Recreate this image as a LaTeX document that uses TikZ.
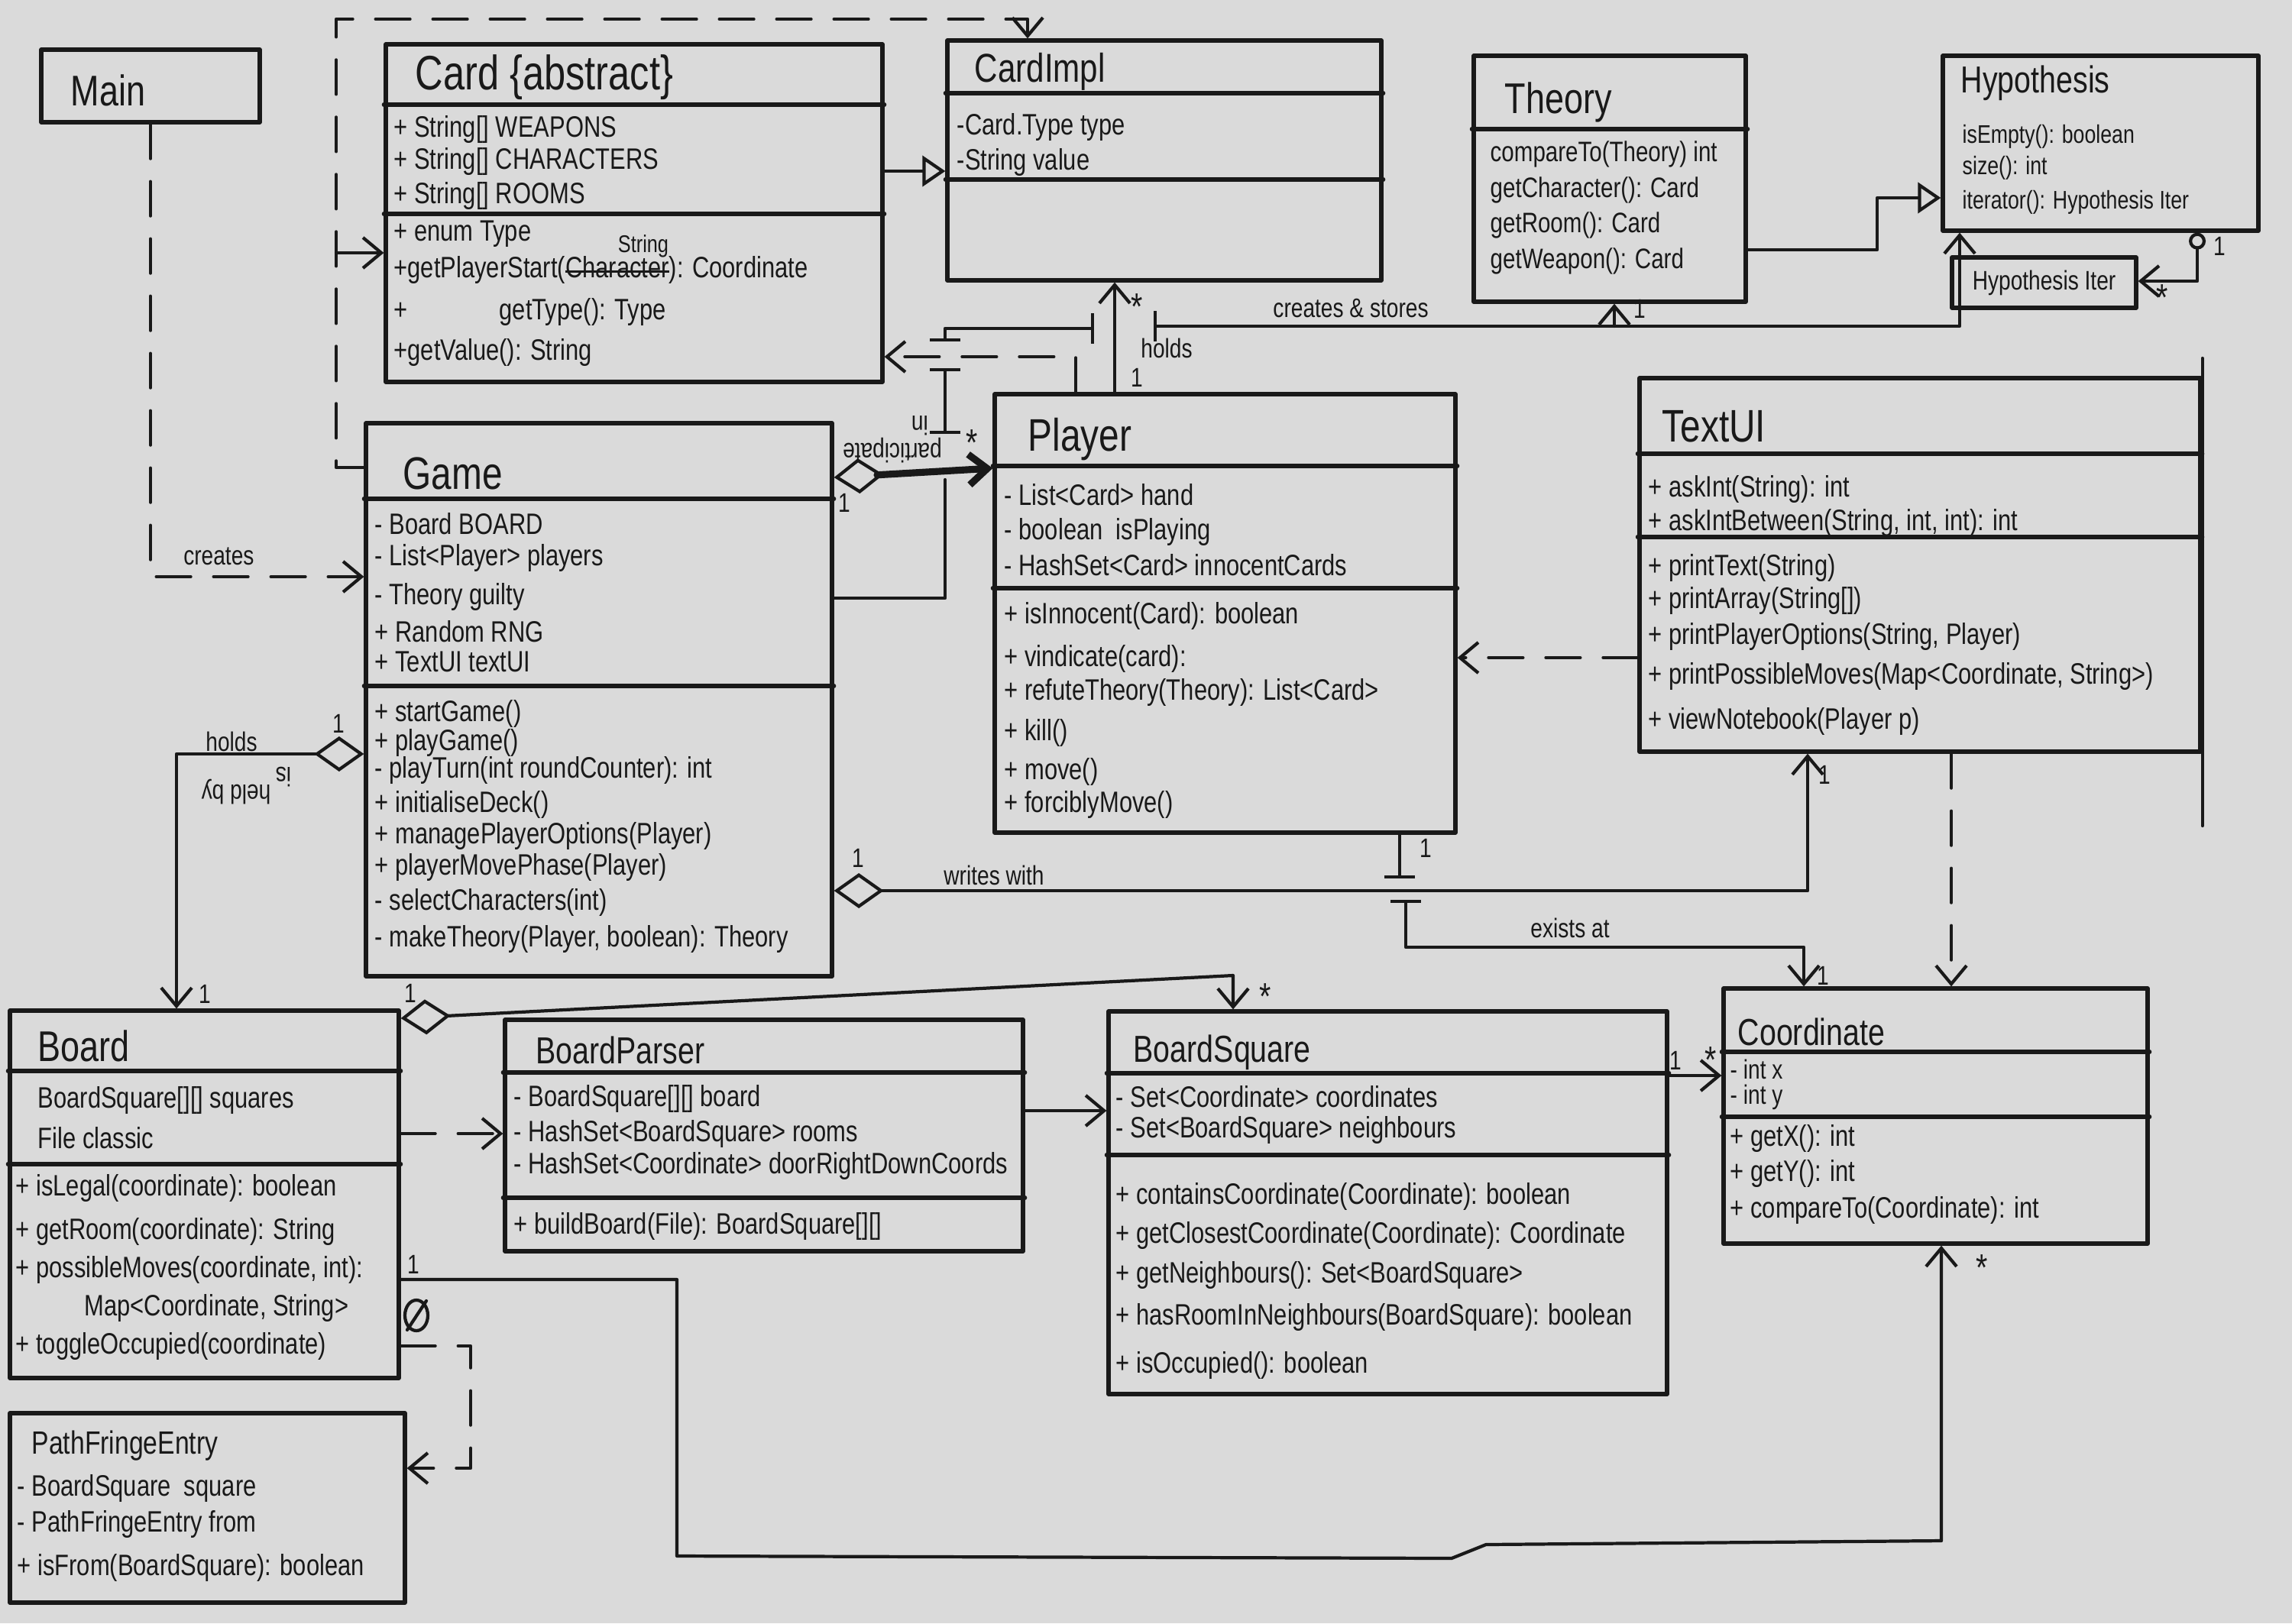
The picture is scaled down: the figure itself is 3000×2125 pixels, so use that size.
\documentclass[tikz,border=0pt]{standalone}
\usepackage{fontspec}
\setmainfont{Liberation Sans}[FakeStretch=0.8]
\usetikzlibrary{arrows.meta,fit}
\definecolor{paper}{RGB}{218,218,218}
\definecolor{ink}{RGB}{25,25,25}
\newcommand\memberlist[4][]{\foreach \yy/\mt [count=\i] in {#4} {\node[member,#1] (#2\i) at (#3,\yy) {\mt};}}
\newcommand\strk[1]{\setbox0\hbox{#1}\rlap{\raisebox{0.3ex}{\rule{\wd0}{0.7pt}}}\box0}
\begin{document}
\begin{tikzpicture}[x=0.1mm,y=-0.1mm,line cap=round,line join=round,
  >={Straight Barb[length=2.4mm,width=4mm]},
  box/.style={draw=ink,line width=1.5pt,inner sep=0pt},
  div/.style={draw=ink,line width=1.5pt},
  conn/.style={draw=ink,line width=1.2pt},
  dep/.style={conn,dash pattern=on 4.5mm off 3mm},
  comp/.style={draw=ink,line width=2.6pt},
  lbl/.style={font=\fontsize{10}{12}\selectfont,text=ink,inner sep=1pt},
  star/.style={font=\fontsize{14}{14}\selectfont,text=ink,inner sep=0pt},
  member/.style={anchor=west,inner sep=0pt,text=ink,font=\fontsize{11}{13}\selectfont},
  cname/.style={anchor=west,inner sep=0pt,text=ink},
  dia/.tip={Diamond[open,length=6.5mm,width=4.6mm,line width=1.2pt]},
  tri/.tip={Triangle[open,length=3mm,width=4mm,line width=1.2pt]},
  brk/.tip={Bar[width=4mm,line width=1.2pt]}]
\useasboundingbox (0,0) rectangle (3000,2125);
\fill[paper] (0,0) rectangle (3000,2125);

% ---------- class boxes ----------
\node[box,fit={(54,65) (340,160)}] (main) {};
\node[cname,font=\fontsize{16}{18}\selectfont] (mainN) at (92,118) {Main};

\node[box,fit={(505,58) (1155,500)}] (card) {};
\draw[div] (card.west |- 0,137) -- (card.east |- 0,137);
\draw[div] (card.west |- 0,280) -- (card.east |- 0,280);
\node[cname,font=\fontsize{18}{20}\selectfont] (cardN) at (543,101) {Card \{abstract\}};
\memberlist{carda}{515}{169/{+ String[] WEAPONS},211/{+ String[] CHARACTERS},256/{+ String[] ROOMS}}
\memberlist{cardm}{515}{306/{+ enum Type},353/{+getPlayerStart(\strk{Character}): Coordinate},408/{+\hspace{12mm}getType(): Type},461/{+getValue(): String}}
\node[lbl,font=\fontsize{9}{10}\selectfont] (cardS) at (842,322) {String};

\node[box,fit={(1240,53) (1808,367)}] (cardimpl) {};
\draw[div] (cardimpl.west |- 0,122) -- (cardimpl.east |- 0,122);
\draw[div] (cardimpl.west |- 0,235) -- (cardimpl.east |- 0,235);
\node[cname,font=\fontsize{15}{17}\selectfont] (cardimplN) at (1275,94) {CardImpl};
\memberlist{cardimpla}{1252}{166/{-Card.Type type},212/{-String value}}

\node[box,fit={(1929,73) (2285,395)}] (theory) {};
\draw[div] (theory.west |- 0,169) -- (theory.east |- 0,169);
\node[cname,font=\fontsize{16}{18}\selectfont] (theoryN) at (1969,134) {Theory};
\memberlist[font=\fontsize{10.5}{12}\selectfont]{theorym}{1950}{202/{compareTo(Theory) int},249/{getCharacter(): Card},295/{getRoom(): Card},342/{getWeapon(): Card}}

\node[box,fit={(2543,73) (2956,302)}] (hypothesis) {};
\node[cname,font=\fontsize{14}{16}\selectfont] (hypothesisN) at (2566,109) {Hypothesis};
\memberlist[font=\fontsize{9.5}{11}\selectfont]{hypothesism}{2568}{179/{isEmpty(): boolean},220/{size(): int},265/{iterator(): Hypothesis Iter}}

\node[box,fit={(2555,337) (2796,403)}] (hypiter) {};
\node[member,font=\fontsize{10}{12}\selectfont,anchor=center] (hypiterN) at (hypiter.center) {Hypothesis Iter};

\node[box,fit={(479,554) (1089,1278)}] (game) {};
\draw[div] (game.west |- 0,653) -- (game.east |- 0,653);
\draw[div] (game.west |- 0,898) -- (game.east |- 0,898);
\node[cname,font=\fontsize{17}{19}\selectfont] (gameN) at (527,620) {Game};
\memberlist{gamea}{490}{686/{- Board BOARD},730/{- List<Player> players},781/{- Theory guilty},827/{+ Random RNG},866/{+ TextUI textUI}}
\memberlist{gamem}{490}{934/{+ startGame()},972/{+ playGame()},1008/{- playTurn(int roundCounter): int},1053/{+ initialiseDeck()},1094/{+ managePlayerOptions(Player)},1135/{+ playerMovePhase(Player)},1181/{- selectCharacters(int)},1229/{- makeTheory(Player, boolean): Theory}}

\node[box,fit={(1302,516) (1905,1090)}] (player) {};
\draw[div] (player.west |- 0,610) -- (player.east |- 0,610);
\draw[div] (player.west |- 0,770) -- (player.east |- 0,770);
\node[cname,font=\fontsize{17}{19}\selectfont] (playerN) at (1345,575) {Player};
\memberlist{playera}{1314}{648/{- List<Card> hand},696/{- boolean\ \ isPlaying},740/{- HashSet<Card> innocentCards}}
\memberlist{playerm}{1314}{806/{+ isInnocent(Card): boolean},862/{+ vindicate(card):},906/{+ refuteTheory(Theory): List<Card>},959/{+ kill()},1010/{+ move()},1053/{+ forciblyMove()}}

\node[box,fit={(2146,495) (2880,984)}] (textui) {};
\draw[div] (textui.west |- 0,594) -- (textui.east |- 0,594);
\draw[div] (textui.west |- 0,703) -- (textui.east |- 0,703);
\draw[conn] (textui.north east |- 0,469) -- (textui.south east |- 0,1081);
\node[cname,font=\fontsize{17}{19}\selectfont] (textuiN) at (2175,558) {TextUI};
\memberlist{textuia}{2157}{640/{+ askInt(String): int},684/{+ askIntBetween(String, int, int): int}}
\memberlist{textuim}{2157}{743/{+ printText(String)},786/{+ printArray(String[])},833/{+ printPlayerOptions(String, Player)},885/{+ printPossibleMoves(Map<Coordinate, String>)},944/{+ viewNotebook(Player p)}}

\node[box,fit={(13,1323) (522,1804)}] (board) {};
\draw[div] (board.west |- 0,1402) -- (board.east |- 0,1402);
\draw[div] (board.west |- 0,1524) -- (board.east |- 0,1524);
\node[cname,font=\fontsize{16}{18}\selectfont] (boardN) at (49,1369) {Board};
\memberlist{boarda}{49}{1440/{BoardSquare[][] squares},1490/{File classic}}
\memberlist{boardm}{20}{1555/{+ isLegal(coordinate): boolean},1612/{+ getRoom(coordinate): String},1662/{+ possibleMoves(coordinate, int):},1712/{\hspace{9mm}Map<Coordinate, String>},1762/{+ toggleOccupied(coordinate)}}

\node[box,fit={(661,1335) (1339,1638)}] (boardparser) {};
\draw[div] (boardparser.west |- 0,1404) -- (boardparser.east |- 0,1404);
\draw[div] (boardparser.west |- 0,1568) -- (boardparser.east |- 0,1568);
\node[cname,font=\fontsize{14}{16}\selectfont] (boardparserN) at (701,1375) {BoardParser};
\memberlist{boardparsera}{672}{1438/{- BoardSquare[][] board},1484/{- HashSet<BoardSquare> rooms},1526/{- HashSet<Coordinate> doorRightDownCoords}}
\memberlist{boardparserm}{672}{1605/{+ buildBoard(File): BoardSquare[][]}}

\node[box,fit={(1451,1324) (2182,1825)}] (boardsquare) {};
\draw[div] (boardsquare.west |- 0,1405) -- (boardsquare.east |- 0,1405);
\draw[div] (boardsquare.west |- 0,1512) -- (boardsquare.east |- 0,1512);
\node[cname,font=\fontsize{14}{16}\selectfont] (boardsquareN) at (1483,1378) {BoardSquare};
\memberlist{boardsquarea}{1460}{1436/{- Set<Coordinate> coordinates},1479/{- Set<BoardSquare> neighbours}}
\memberlist{boardsquarem}{1460}{1566/{+ containsCoordinate(Coordinate): boolean},1617/{+ getClosestCoordinate(Coordinate): Coordinate},1669/{+ getNeighbours(): Set<BoardSquare>},1724/{+ hasRoomInNeighbours(BoardSquare): boolean},1787/{+ isOccupied(): boolean}}

\node[box,fit={(2256,1294) (2811,1628)}] (coordinate) {};
\draw[div] (coordinate.west |- 0,1377) -- (coordinate.east |- 0,1377);
\draw[div] (coordinate.west |- 0,1462) -- (coordinate.east |- 0,1462);
\node[cname,font=\fontsize{14}{16}\selectfont] (coordinateN) at (2274,1351) {Coordinate};
\memberlist[font=\fontsize{10}{12}\selectfont]{coordinatea}{2264}{1400/{- int x},1436/{- int y}}
\memberlist{coordinatem}{2264}{1490/{+ getX(): int},1536/{+ getY(): int},1584/{+ compareTo(Coordinate): int}}

\node[box,fit={(13,1850) (530,2098)}] (pathfringe) {};
\node[cname,font=\fontsize{12}{14}\selectfont] (pathfringeN) at (41,1893) {PathFringeEntry};
\memberlist{pathfringem}{22}{1948/{- BoardSquare\ \ square},1995/{- PathFringeEntry from},2052/{+ isFrom(BoardSquare): boolean}}

% ---------- connectors ----------
% Main creates Game
\draw[dep,->] (main.south) |- (game.west |- 0,755)
  node[lbl,pos=0.66,above=1mm] (lcreates) {creates};
% Game uses CardImpl (dashed, over the top)
\draw[dep,->] (game.west |- 0,612) -- (440,612) -- (440,25) -- (1345,25) -- (cardimpl.north -| 1345,0);
\coordinate (cardjoin) at (440,331);
\draw[conn,->] (cardjoin) -- (card.west |- 0,331);
% CardImpl / Card
\draw[conn,-tri] (card.east |- 0,224) -- (cardimpl.west |- 0,224);
% Player uses Card
\draw[dep,->] (player.north -| 1408,0) -- (1408,467) -- (card.east |- 0,467);
% Player holds CardImpl
\draw[conn,->] (player.north -| 1459,0) -- (cardimpl.south -| 1459,0);
\node[star] (sholds) at (1488,402) {*};
\node[lbl] (lholds) at (1527,456) {holds};
\node[lbl] (mholds) at (1488,494) {1};
% Game creates & stores Theory / Hypothesis (with line jumps)
\draw[conn] (game.east |- 0,783) -- (1237,783) -- (1237,628);
\draw[conn,brk-brk] (1237,568) -- (1237,482);
\draw[conn,brk-brk] (1237,447) -- (1237,430) -- (1432,430);
\draw[conn,brk->] (1510,427) -- (2565,427) -- (hypothesis.south -| 2565,0);
\coordinate (theorybranch) at (2113,427);
\draw[conn,->] (theorybranch) -- (theory.south -| 2113,0);
\node[lbl] (lcreatesstores) at (1768,404) {creates \& stores};
\node[lbl] (mtheory) at (2146,404) {1};
% Game participate Player (composition)
\draw[comp,dia->] (game.east |- 0,625) -- (player.west |- 0,613);
\node[lbl,rotate=180] (lparticipate) at (1168,590) {participate};
\node[lbl,rotate=180] (lin) at (1204,557) {in};
\node[star] (sparticipate) at (1272,580) {*};
\node[lbl] (mparticipate) at (1105,658) {1};
% Theory realises Hypothesis
\draw[conn,-tri] (theory.east |- 0,327) -- (2457,327) -- (2457,259) -- (hypothesis.west |- 0,259);
% Hypothesis -> HypothesisIter
\draw[conn,{Circle[open,length=2.2mm,line width=1.2pt]}->] (hypothesis.south -| 2876,0) |- (hypiter.east |- 0,368);
\node[lbl] (miter1) at (2905,322) {1};
\node[star] (miter2) at (2830,390) {*};
% Game holds Board
\draw[conn,dia->] (game.west |- 0,987) -| (board.north -| 231,0);
\node[lbl] (lgameholds) at (303,971) {holds};
\node[lbl,rotate=180] (lheldby) at (309,1037) {held by};
\node[lbl,rotate=180] (lis) at (371,1017) {is};
\node[lbl] (mgame1) at (443,947) {1};
\node[lbl] (mboard1) at (268,1301) {1};
% Game writes with TextUI
\draw[conn,dia->] (game.east |- 0,1166) -| (textui.south -| 2366,0);
\node[lbl] (lwrites) at (1301,1146) {writes with};
\node[lbl] (mwrites1) at (1123,1123) {1};
\node[lbl] (mwrites2) at (2388,1014) {1};
% TextUI uses Player / Coordinate
\draw[dep,->] (textui.west |- 0,861) -- (player.east |- 0,861);
\draw[dep,->] (textui.south -| 2554,0) -- (coordinate.north -| 2554,0);
% Player exists at Coordinate (with a line jump)
\draw[conn,-brk] (player.south -| 1832,0) -- (1832,1150);
\draw[conn,brk->] (1840,1178) -- (1840,1240) -- (2361,1240) -- (coordinate.north -| 2361,0);
\node[lbl] (lexists) at (2055,1215) {exists at};
\node[lbl] (mexists1) at (1866,1110) {1};
\node[lbl] (mexists2) at (2386,1277) {1};
% Board aggregates BoardSquare
\draw[conn,dia->] (board.east |- 0,1333) -- (1614,1277) -- (boardsquare.north -| 1614,0);
\node[lbl] (mbsq1) at (537,1300) {1};
\node[star] (mbsq2) at (1656,1305) {*};
% Board uses BoardParser
\draw[dep,->] (board.east |- 0,1484) -- (boardparser.west |- 0,1484);
% BoardParser -> BoardSquare
\draw[conn,->] (boardparser.east |- 0,1454) -- (boardsquare.west |- 0,1454);
% BoardSquare -> Coordinate
\draw[conn,->] (boardsquare.east |- 0,1408) -- (coordinate.west |- 0,1408);
\node[lbl] (mcoord1) at (2193,1388) {1};
\node[star] (mcoord2) at (2239,1388) {*};
% Board -> Coordinate (around the bottom)
\draw[conn,->] (board.east |- 0,1675) -- (886,1675) -- (886,2037) -- (1900,2040) -- (1945,2022) -- (2541,2017) -- (coordinate.south -| 2541,0);
\node[lbl] (mbc1) at (541,1655) {1};
\node[star] (mbc2) at (2594,1660) {*};
\draw[conn] (545,1722) ellipse (1.5mm and 2mm);
\draw[conn] (533,1741) -- (558,1703);
% Board uses PathFringeEntry
\draw[dep,->] (board.east |- 0,1762) -- (616,1762) -- (616,1922) -- (pathfringe.east |- 0,1922);
\end{tikzpicture}
\end{document}
